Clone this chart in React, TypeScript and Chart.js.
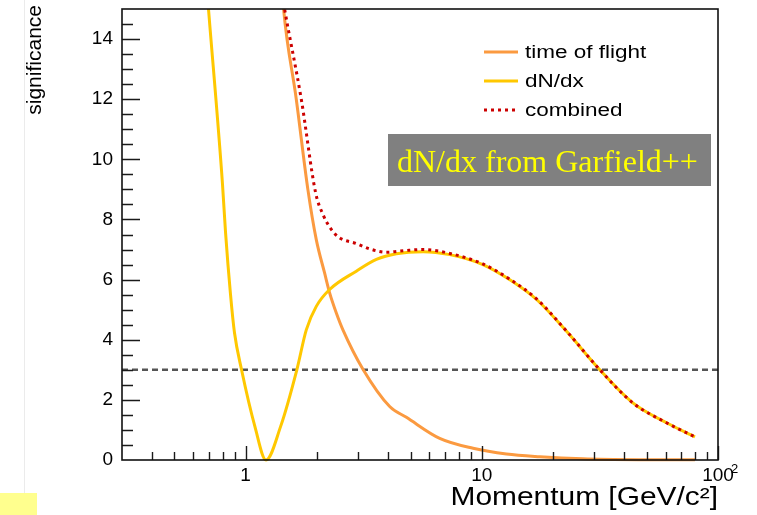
import React, { useEffect, useRef } from "react";
import { Chart, registerables } from "chart.js";

Chart.register(...registerables);

// Separation power vs. momentum for the two identification methods and their combination
const tofMomentum = [1.393, 1.449, 1.64, 1.836, 1.993, 2.161, 2.27, 2.423, 2.584, 3.141, 4.076, 4.797, 6.637, 9.188, 12.72, 17.61, 26.8, 46.7, 79.9];
const tofSignificance = [16.9, 15.0, 12.0, 9.0, 7.33, 6.22, 5.56, 4.89, 4.33, 3.02, 1.78, 1.42, 0.72, 0.39, 0.2, 0.11, 0.04, 0.01, 0.005];

const dndxMomentum = [0.67, 0.697, 0.799, 0.823, 0.864, 0.898, 0.962, 1.096, 1.221, 1.407, 1.649, 1.808, 1.993, 2.27, 2.945, 3.58, 4.351, 5.64, 7.32, 10.1, 13.1, 17.1, 22.9, 31.6, 43.6, 60.8, 79.9];
const dndxSignificance = [16.7, 15.0, 9.17, 7.57, 5.5, 4.23, 3.0, 1.11, 0.0, 1.11, 3.0, 4.33, 5.11, 5.67, 6.28, 6.67, 6.86, 6.93, 6.83, 6.5, 6.0, 5.33, 4.27, 3.0, 1.9, 1.23, 0.77];

const combinedMomentum = [1.4, 1.463, 1.722, 1.98, 2.126, 2.307, 2.502, 2.945, 3.353, 3.947, 4.797, 5.64, 7.32, 10.1, 13.1, 17.1, 22.9, 31.6, 43.6, 60.8, 79.9];
const combinedSignificance = [15.9, 15.0, 12.0, 8.89, 8.17, 7.67, 7.39, 7.2, 7.02, 6.91, 6.97, 7.0, 6.87, 6.52, 6.02, 5.35, 4.28, 3.0, 1.9, 1.23, 0.77];

const thresholdMomentum = [0.3, 100];
const thresholdSignificance = [3, 3];

const xRange = [0.3, 100];
const yRange = [0, 15];
const xMajorTicks = [1, 10, 100];
const xMinorTicks = [0.4, 0.5, 0.6, 0.7, 0.8, 0.9, 2, 3, 4, 5, 6, 7, 8, 9, 20, 30, 40, 50, 60, 70, 80, 90];
const yMajorTicks = [0, 2, 4, 6, 8, 10, 12, 14];
const yMinorStep = 0.5;

const legendEntries = ["time of flight", "dN/dx", "combined"];
const xTitle = "Momentum [GeV/c\u00b2]";
const yTitle = "significance";
const boxLabel = "dN/dx from Garfield++";

const SANS = '"Liberation Sans", Arial, sans-serif';
const SERIF = '"Liberation Serif", "Times New Roman", serif';

const pts = (xs: number[], ys: number[]) => xs.map((x, i) => ({ x, y: ys[i] }));

const rootStylePlugin = {
  id: "rootStyle",
  beforeDraw(chart: any) {
    const { ctx, width, height } = chart;
    ctx.save();
    ctx.fillStyle = "#ffffff";
    ctx.fillRect(0, 0, width, height);
    // slide edge and highlight strip in the lower left corner
    ctx.strokeStyle = "#ebebeb";
    ctx.lineWidth = 1;
    ctx.beginPath();
    ctx.moveTo(24.5, 0);
    ctx.lineTo(24.5, 493);
    ctx.stroke();
    ctx.fillStyle = "#ffff8e";
    ctx.fillRect(0, 493, 37, height - 493);
    ctx.restore();
  },
  afterDraw(chart: any) {
    const { ctx, chartArea: a, scales } = chart;
    const xs = scales.x;
    const ys = scales.y;
    ctx.save();

    // inward ticks, ROOT style
    ctx.strokeStyle = "#1a1a1a";
    ctx.lineWidth = 1.4;
    ctx.beginPath();
    for (let v = yMinorStep; v < yRange[1]; v += yMinorStep) {
      const py = Math.round(ys.getPixelForValue(v)) + 0.5;
      const len = yMajorTicks.includes(v) ? 18 : 11;
      ctx.moveTo(a.left, py);
      ctx.lineTo(a.left + len, py);
    }
    for (const v of [...xMajorTicks, ...xMinorTicks]) {
      const px = Math.round(xs.getPixelForValue(v)) + 0.5;
      const len = xMajorTicks.includes(v) ? 14 : 8;
      ctx.moveTo(px, a.bottom);
      ctx.lineTo(px, a.bottom - len);
    }
    ctx.stroke();

    // frame
    ctx.lineWidth = 1.6;
    ctx.strokeStyle = "#111";
    ctx.strokeRect(a.left, a.top, a.right - a.left, a.bottom - a.top);

    // exponent of the last decade label
    ctx.fillStyle = "#000";
    ctx.font = `13px ${SANS}`;
    ctx.textAlign = "left";
    ctx.textBaseline = "alphabetic";
    ctx.fillText("2", xs.getPixelForValue(100) + 13, a.bottom + 13);

    // x axis title, right aligned to the frame
    ctx.font = `26px ${SANS}`;
    const tw = ctx.measureText(xTitle).width * 1.15;
    ctx.save();
    ctx.translate(a.right - tw, 505);
    ctx.scale(1.15, 1);
    ctx.fillText(xTitle, 0, 0);
    ctx.restore();

    // y axis title, rotated, ending at the top of the frame
    ctx.save();
    ctx.font = `21px ${SANS}`;
    ctx.textAlign = "right";
    ctx.textBaseline = "middle";
    ctx.translate(35, a.top - 4);
    ctx.rotate(-Math.PI / 2);
    ctx.fillText(yTitle, 0, 0);
    ctx.restore();

    // legend
    const ds = chart.data.datasets;
    const legendX = a.left + 362;
    const legendY = [a.top + 43, a.top + 72, a.top + 101];
    legendEntries.forEach((label, i) => {
      const d = ds.find((e: any) => e.label === label);
      if (!d) return;
      ctx.save();
      ctx.strokeStyle = d.borderColor;
      ctx.lineWidth = d.borderWidth;
      ctx.setLineDash(d.borderDash || []);
      ctx.beginPath();
      ctx.moveTo(legendX, legendY[i]);
      ctx.lineTo(legendX + 34, legendY[i]);
      ctx.stroke();
      ctx.restore();
      ctx.save();
      ctx.font = `18px ${SANS}`;
      ctx.fillStyle = "#000";
      ctx.textAlign = "left";
      ctx.textBaseline = "middle";
      ctx.translate(legendX + 41, legendY[i] + 1);
      ctx.scale(1.25, 1);
      ctx.fillText(label, 0, 0);
      ctx.restore();
    });

    // grey annotation box
    ctx.fillStyle = "#808080";
    ctx.fillRect(388, 134, 323, 52);
    ctx.fillStyle = "#ffff00";
    ctx.font = `32px ${SERIF}`;
    ctx.textAlign = "left";
    ctx.textBaseline = "alphabetic";
    ctx.fillText(boxLabel, 397, 172);

    ctx.restore();
  },
};

export default function App() {
  const canvasRef = useRef<HTMLCanvasElement | null>(null);

  useEffect(() => {
    const canvas = canvasRef.current;
    if (!canvas) return;
    const clip = { left: 0, top: 0, right: 0, bottom: 2 };
    const chart = new Chart(canvas, {
      type: "line",
      data: {
        datasets: [
          {
            label: "combined",
            data: pts(combinedMomentum, combinedSignificance),
            borderColor: "#cc0000",
            borderWidth: 3,
            borderDash: [3, 4],
            pointRadius: 0,
            cubicInterpolationMode: "monotone",
            order: 0,
            clip,
          },
          {
            label: "dN/dx",
            data: pts(dndxMomentum, dndxSignificance),
            borderColor: "#ffc800",
            borderWidth: 3,
            pointRadius: 0,
            cubicInterpolationMode: "monotone",
            order: 1,
            clip,
          },
          {
            label: "time of flight",
            data: pts(tofMomentum, tofSignificance),
            borderColor: "#fb9a40",
            borderWidth: 3,
            pointRadius: 0,
            cubicInterpolationMode: "monotone",
            order: 2,
            clip,
          },
          {
            label: "threshold",
            data: pts(thresholdMomentum, thresholdSignificance),
            borderColor: "#555555",
            borderWidth: 2.5,
            borderDash: [6, 4],
            pointRadius: 0,
            order: 3,
          },
        ],
      },
      options: {
        animation: false,
        responsive: false,
        devicePixelRatio: 1,
        parsing: false,
        layout: { padding: { top: 9, right: 39, left: 0, bottom: 0 } },
        plugins: {
          legend: { display: false },
          tooltip: { enabled: false },
        },
        scales: {
          x: {
            type: "logarithmic",
            min: xRange[0],
            max: xRange[1],
            grid: { display: false, drawTicks: false },
            border: { display: false },
            afterBuildTicks: (scale: any) => {
              scale.ticks = xMajorTicks.map((v) => ({ value: v }));
            },
            afterFit: (scale: any) => {
              scale.height = 55;
              scale.paddingLeft = 0;
              scale.paddingRight = 0;
            },
            ticks: {
              autoSkip: false,
              maxRotation: 0,
              padding: 4,
              color: "#000",
              font: { family: SANS, size: 19 },
              callback: (v: any) => String(v),
            },
          },
          y: {
            type: "linear",
            min: yRange[0],
            max: yRange[1],
            grid: { display: false, drawTicks: false },
            border: { display: false },
            afterBuildTicks: (scale: any) => {
              scale.ticks = yMajorTicks.map((v) => ({ value: v }));
            },
            afterFit: (scale: any) => {
              scale.width = 122;
              scale.paddingTop = 0;
              scale.paddingBottom = 0;
            },
            ticks: {
              padding: 9,
              color: "#000",
              font: { family: SANS, size: 19 },
            },
          },
        },
      },
      plugins: [rootStylePlugin],
    } as any);
    return () => chart.destroy();
  }, []);

  return (
    <div style={{ position: "absolute", left: 0, top: 0, width: 757, height: 515 }}>
      <canvas ref={canvasRef} width={757} height={515} />
    </div>
  );
}
